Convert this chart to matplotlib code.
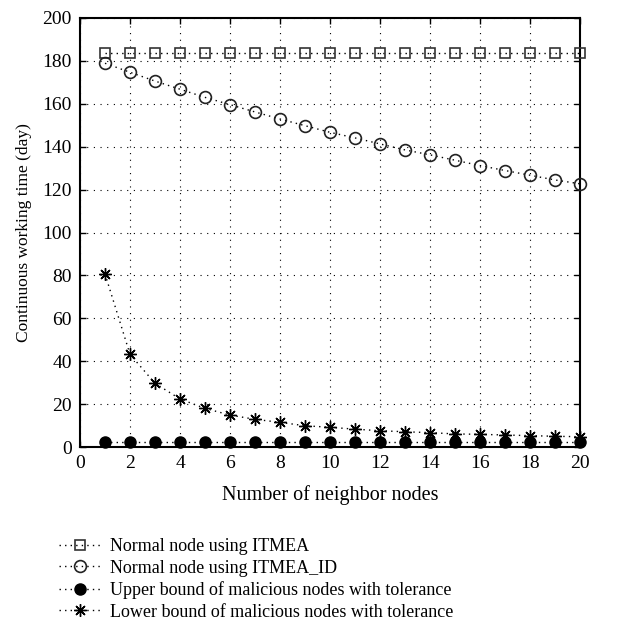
import numpy as np
import matplotlib
matplotlib.use('Agg')
import matplotlib.pyplot as plt

plt.rcParams['font.family'] = ['Liberation Serif', 'DejaVu Serif']

# neighbor nodes
nodes = np.arange(1, 21)

itmea = [183.5] * 20
itmea_id = [178.9, 174.7, 170.6, 166.8, 163.0, 159.6, 156.2, 152.9, 149.8, 146.7,
            144.1, 141.3, 138.5, 136.2, 133.7, 131.2, 128.9, 126.7, 124.5, 122.7]
upper_bound = [2.3] * 20
lower_bound = [80.7, 43.2, 29.7, 22.4, 18.0, 14.9, 12.9, 11.5, 9.9, 9.2,
               8.3, 7.6, 7.1, 6.7, 6.1, 5.9, 5.6, 5.3, 5.0, 4.8]

labels = ['Normal node using ITMEA',
          'Normal node using ITMEA_ID',
          'Upper bound of malicious nodes with tolerance',
          'Lower bound of malicious nodes with tolerance']

fig = plt.figure(figsize=(6.17, 6.22), dpi=100)
ax = fig.add_axes([80/617, 1 - 447/622, 500/617, 429/622])

ls = (0, (1, 3))
lw = 1.0
ax.plot(nodes, itmea, ls=ls, color='black', lw=lw, marker='s', ms=7,
        mfc='none', mec='#333333', mew=1.2, label=labels[0], clip_on=False, zorder=3)
ax.plot(nodes, itmea_id, ls=ls, color='black', lw=lw, marker='o', ms=8.5,
        mfc='none', mec='#222222', mew=1.2, label=labels[1], clip_on=False, zorder=3)
ax.plot(nodes, upper_bound, ls=ls, color='black', lw=lw, marker='o', ms=8,
        mfc='black', mec='black', label=labels[2], clip_on=False, zorder=3)
ax.plot(nodes, lower_bound, ls=ls, color='black', lw=lw, marker=(8, 2, 0), ms=9,
        mfc='none', mec='black', mew=1.0, label=labels[3], clip_on=False, zorder=3)

ax.set_xlim(0, 20)
ax.set_ylim(0, 200)
ax.set_xticks(range(0, 21, 2))
ax.set_yticks(range(0, 201, 20))
ax.tick_params(direction='in', top=True, right=True, labelsize=14, length=4,
               width=1.0, pad=6)
ax.grid(True, ls=(0, (1, 5)), color='black', lw=0.8)
for s in ax.spines.values():
    s.set_linewidth(1.5)

ax.set_xlabel('Number of neighbor nodes', fontsize=14.5, labelpad=9)
ax.set_ylabel('Continuous working time (day)', fontsize=12.5, labelpad=7)

fig.legend(loc='upper left', bbox_to_anchor=(52/617, 1 - 531/622), frameon=False,
           fontsize=13, handlelength=2.3, labelspacing=0.25, handletextpad=0.5,
           borderaxespad=0)

fig.savefig('out.png', dpi=100)
